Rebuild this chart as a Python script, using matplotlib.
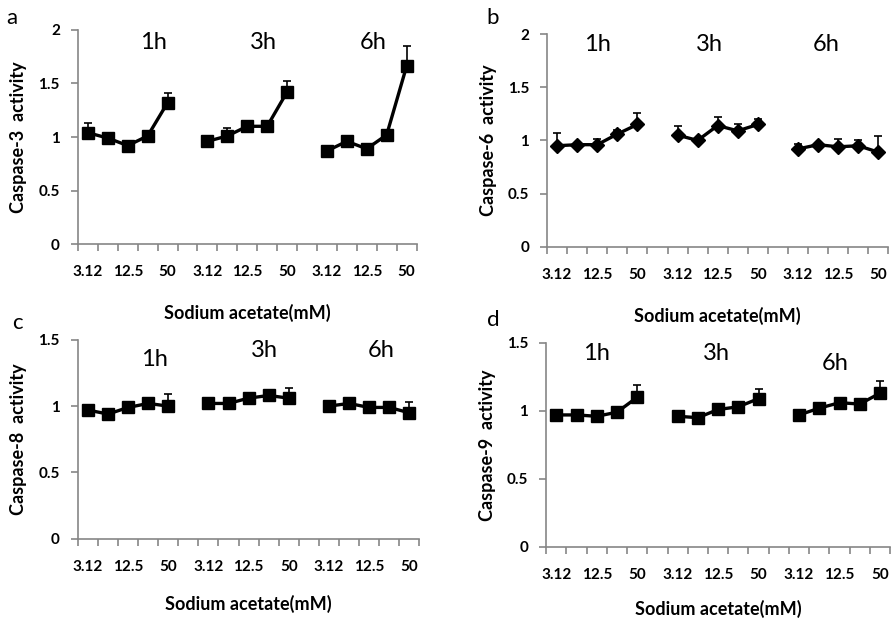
import numpy as np
import matplotlib
matplotlib.use("Agg")
import matplotlib.pyplot as plt

plt.rcParams['font.family'] = ['Lato', 'DejaVu Sans']

# x categories: 5 concentrations per time point, one empty slot between groups
conc_labels = ['3.12', '12.5', '50']
time_labels = ['1h', '3h', '6h']

# panel a - caspase-3
casp3_1h = [1.04, 0.99, 0.92, 1.01, 1.32]
casp3_3h = [0.96, 1.01, 1.10, 1.10, 1.42]
casp3_6h = [0.87, 0.96, 0.89, 1.02, 1.66]
casp3_err_1h = [0.09, 0.0, 0.0, 0.0, 0.09]
casp3_err_3h = [0.0, 0.07, 0.0, 0.0, 0.10]
casp3_err_6h = [0.0, 0.0, 0.0, 0.0, 0.19]

# panel b - caspase-6
casp6_1h = [0.95, 0.96, 0.96, 1.06, 1.15]
casp6_3h = [1.05, 1.00, 1.14, 1.09, 1.15]
casp6_6h = [0.92, 0.96, 0.94, 0.95, 0.89]
casp6_err_1h = [0.12, 0.0, 0.05, 0.04, 0.11]
casp6_err_3h = [0.09, 0.0, 0.08, 0.06, 0.05]
casp6_err_6h = [0.05, 0.0, 0.07, 0.05, 0.15]

# panel c - caspase-8
casp8_1h = [0.97, 0.94, 0.99, 1.02, 1.00]
casp8_3h = [1.02, 1.02, 1.06, 1.08, 1.06]
casp8_6h = [1.00, 1.02, 0.99, 0.99, 0.95]
casp8_err_1h = [0.0, 0.0, 0.0, 0.0, 0.09]
casp8_err_3h = [0.0, 0.0, 0.0, 0.0, 0.08]
casp8_err_6h = [0.0, 0.0, 0.0, 0.0, 0.08]

# panel d - caspase-9
casp9_1h = [0.97, 0.97, 0.96, 0.99, 1.10]
casp9_3h = [0.96, 0.95, 1.01, 1.03, 1.09]
casp9_6h = [0.97, 1.02, 1.06, 1.05, 1.13]
casp9_err_1h = [0.0, 0.0, 0.0, 0.0, 0.09]
casp9_err_3h = [0.0, 0.0, 0.0, 0.0, 0.07]
casp9_err_6h = [0.0, 0.0, 0.0, 0.0, 0.09]

axis_gray = '#868686'


def draw_panel(ax, groups, errs, marker, ylabel, ymax, yticks, ytlabels,
               time_pos, xpad=18):
    for g, (vals, e) in enumerate(zip(groups, errs)):
        x = np.arange(5) + 6 * g
        ax.errorbar(x, vals, yerr=[np.zeros(5), e], color='black', lw=2.4,
                    marker=marker, ms=9 if marker == 's' else 7,
                    capsize=3, elinewidth=1.2, capthick=1.2, clip_on=False)
    ax.set_xlim(-0.5, 16.5)
    ax.set_ylim(0, ymax)
    for s in ['top', 'right']:
        ax.spines[s].set_visible(False)
    for s in ['left', 'bottom']:
        ax.spines[s].set_color(axis_gray)
        ax.spines[s].set_linewidth(1.2)
    ax.set_xticks(np.arange(-0.5, 17, 1.0))
    ax.set_xticklabels([])
    ax.set_xticks([0, 2, 4, 6, 8, 10, 12, 14, 16], minor=True)
    ax.set_xticklabels(conc_labels * 3, minor=True, fontweight='bold', fontsize=11)
    ax.tick_params(axis='x', which='major', length=5, color=axis_gray, width=1.2)
    ax.tick_params(axis='x', which='minor', length=0, pad=15)
    ax.set_yticks(yticks)
    ax.set_yticklabels(ytlabels, fontweight='bold', fontsize=11)
    ax.tick_params(axis='y', length=5, color=axis_gray, width=1.2, pad=8)
    ax.set_ylabel(ylabel, fontweight='bold', fontsize=13, labelpad=8)
    ax.set_xlabel('Sodium acetate(mM)', fontweight='bold', fontsize=13, labelpad=xpad)
    for t, (tx, ty) in zip(time_labels, time_pos):
        ax.text(tx, ty, t, fontsize=17, ha='center', va='center',
                transform=ax.transData)


fig = plt.figure(figsize=(8.91, 6.2), dpi=100)
ax_a = fig.add_axes([0.0875, 0.606, 0.380, 0.346])
ax_b = fig.add_axes([0.614, 0.602, 0.383, 0.343])
ax_c = fig.add_axes([0.0875, 0.131, 0.383, 0.321])
ax_d = fig.add_axes([0.613, 0.118, 0.386, 0.329])

draw_panel(ax_a, [casp3_1h, casp3_3h, casp3_6h],
           [casp3_err_1h, casp3_err_3h, casp3_err_6h], 's',
           'Caspase-3  activity', 2, [0, 0.5, 1, 1.5, 2],
           ['0', '0.5', '1', '1.5', '2'],
           [(3.3, 1.88), (8.8, 1.88), (14.3, 1.88)])
draw_panel(ax_b, [casp6_1h, casp6_3h, casp6_6h],
           [casp6_err_1h, casp6_err_3h, casp6_err_6h], 'D',
           'Caspase-6  activity', 2, [0, 0.5, 1, 1.5, 2],
           ['0', '0.5', '1', '1.5', '2'],
           [(2.0, 1.9), (7.6, 1.9), (13.4, 1.9)])
draw_panel(ax_c, [casp8_1h, casp8_3h, casp8_6h],
           [casp8_err_1h, casp8_err_3h, casp8_err_6h], 's',
           'Caspase-8  activity', 1.5, [0, 0.5, 1, 1.5],
           ['0', '0.5', '1', '1.5'],
           [(3.3, 1.35), (8.8, 1.42), (14.6, 1.42)], xpad=15)
draw_panel(ax_d, [casp9_1h, casp9_3h, casp9_6h],
           [casp9_err_1h, casp9_err_3h, casp9_err_6h], 's',
           'Caspase-9  activity', 1.5, [0, 0.5, 1, 1.5],
           ['0', '0.5', '1', '1.5'],
           [(2.0, 1.42), (7.9, 1.42), (13.8, 1.35)], xpad=13)

# panel letters
for letter, px, py in [('a', 12, 18), ('b', 493, 18), ('c', 17, 323), ('d', 493, 320)]:
    fig.text(px / 891, 1 - py / 620, letter, fontsize=16, ha='center', va='center')

fig.savefig('out.png', dpi=100)
